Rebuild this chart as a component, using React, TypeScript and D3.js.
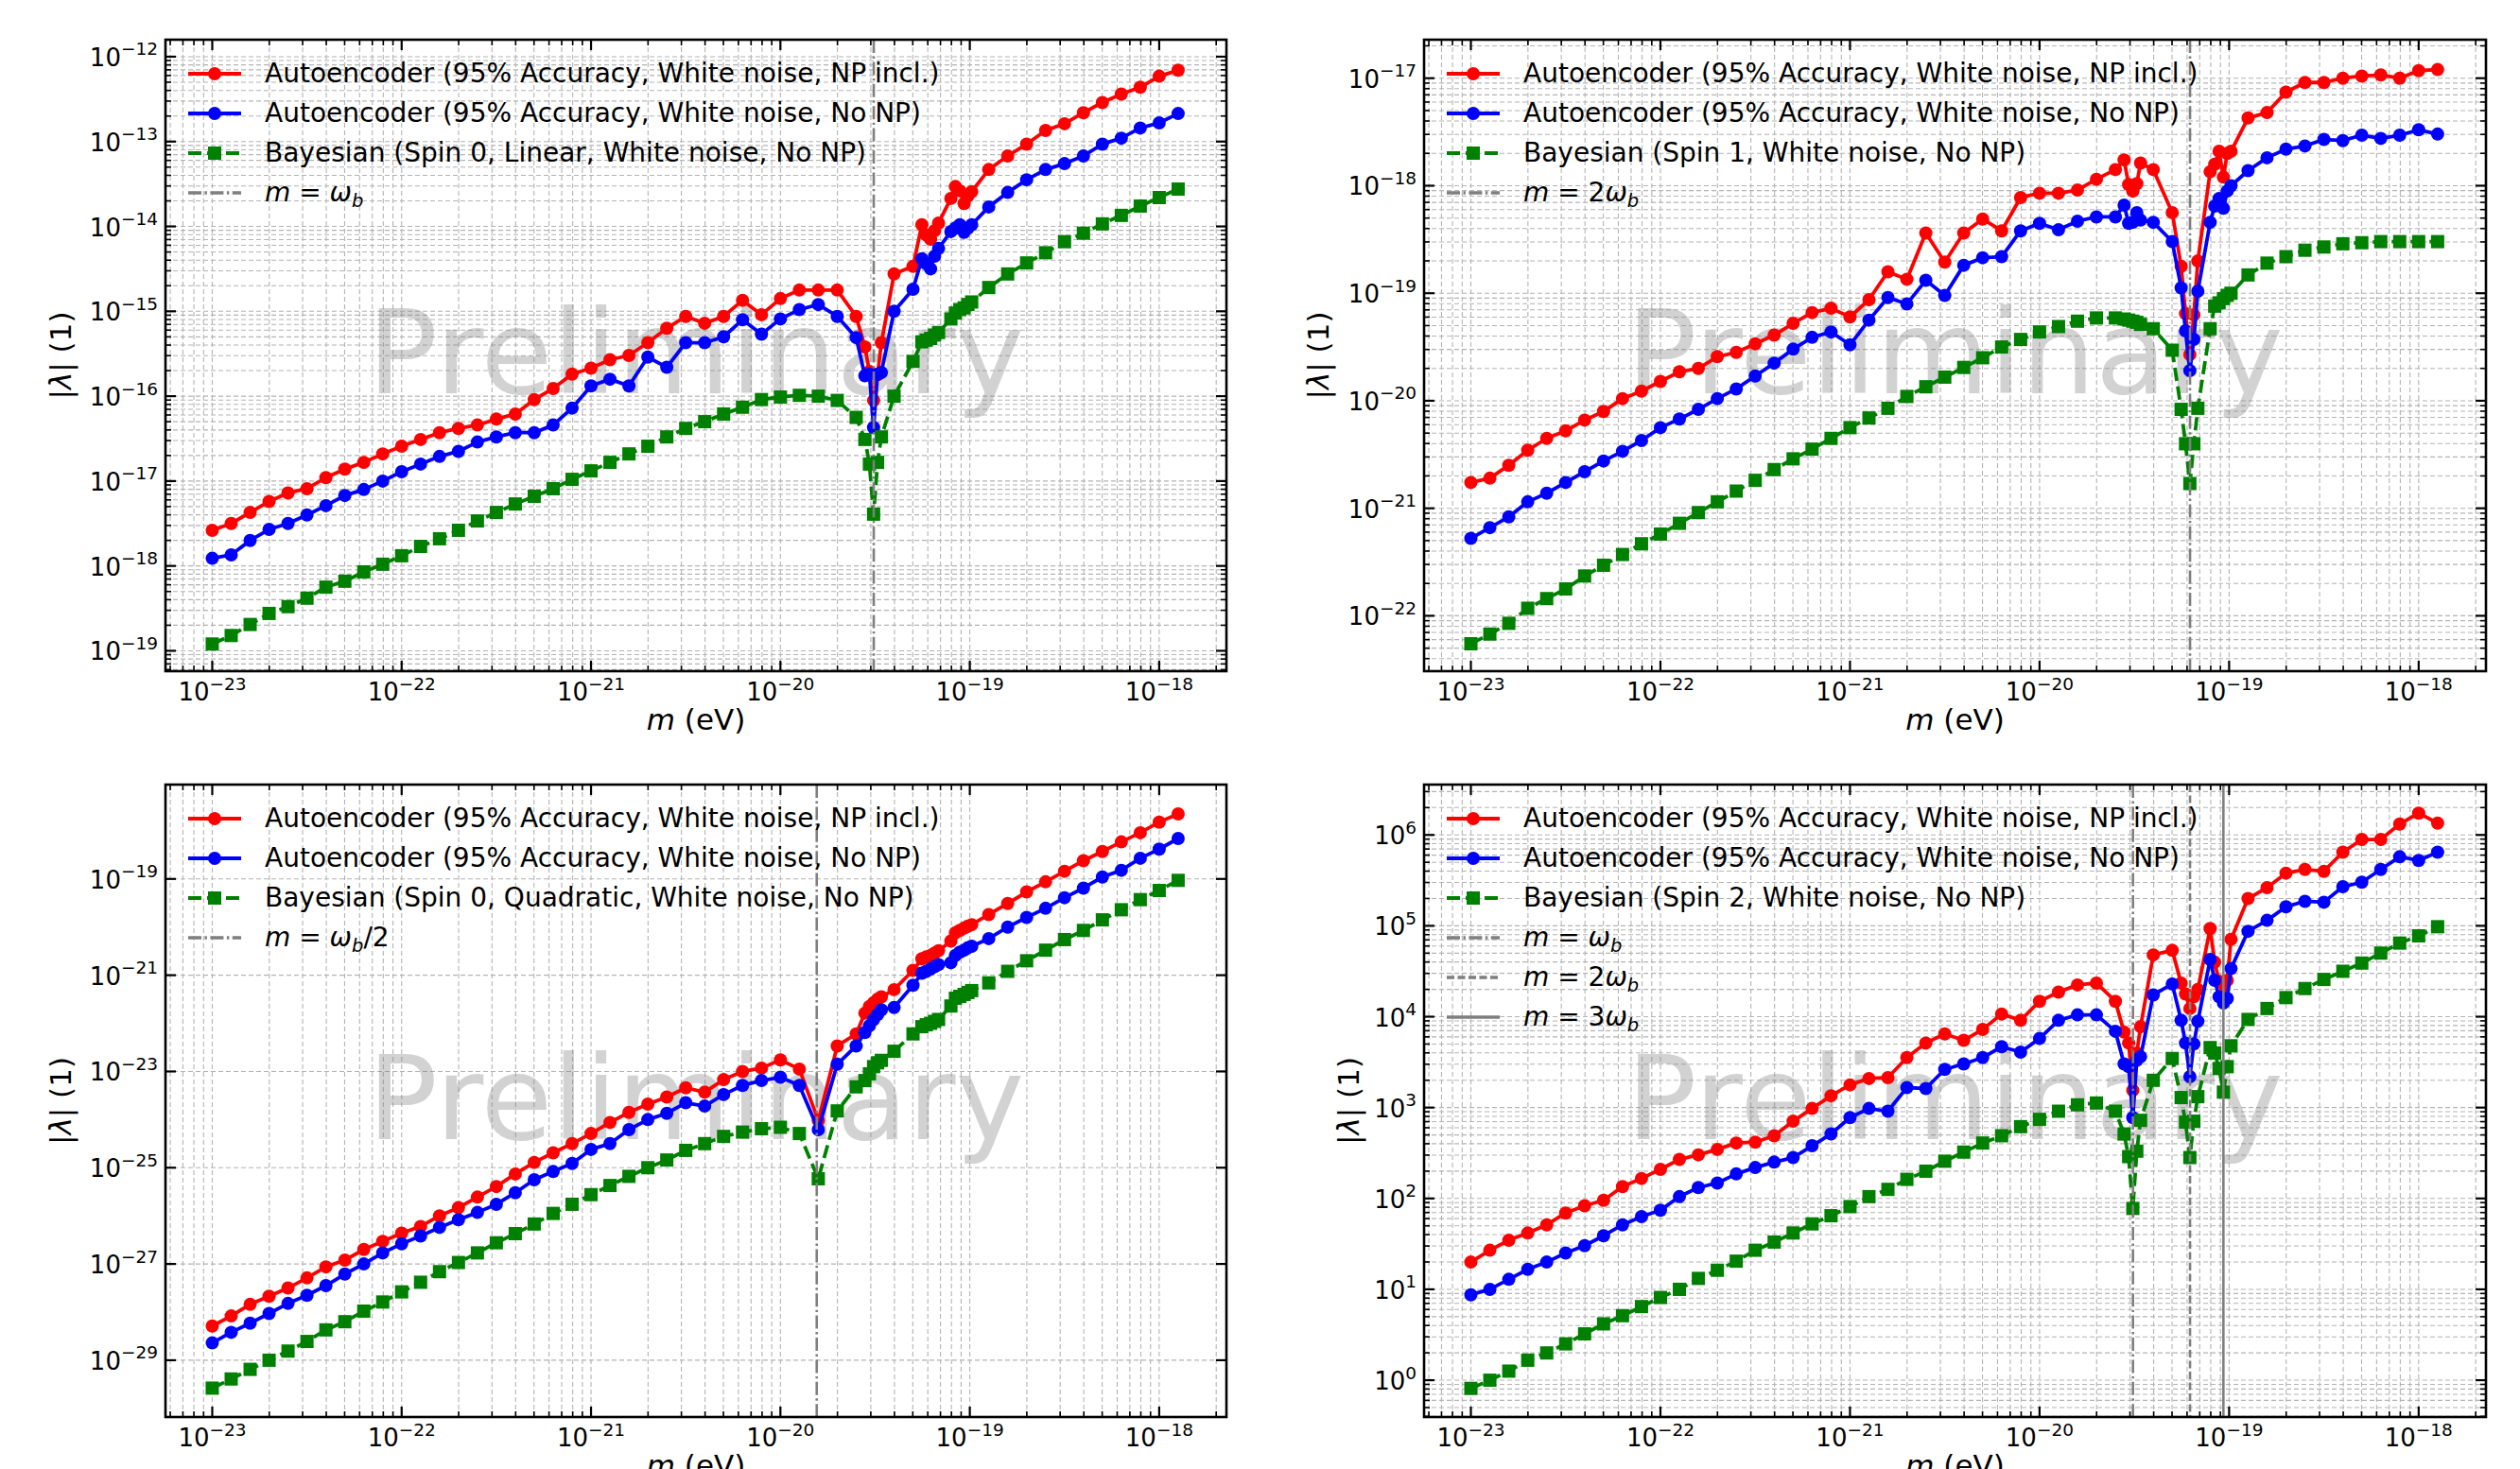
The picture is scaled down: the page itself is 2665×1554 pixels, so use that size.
import React from 'react';
import * as d3 from 'd3';

const FONT = "'DejaVu Sans', 'Liberation Sans', sans-serif";

// log10 of the mass grid m (eV); extra points cluster around the resonances
const massExp = [
  -23.0, -22.9, -22.8, -22.7, -22.6, -22.5, -22.4, -22.3, -22.2, -22.1,
  -22.0, -21.9, -21.8, -21.7, -21.6, -21.5, -21.4, -21.3, -21.2, -21.1,
  -21.0, -20.9, -20.8, -20.7, -20.6, -20.5, -20.4, -20.3, -20.2, -20.1,
  -20.0, -19.9, -19.8, -19.7, -19.6,
  -19.554, -19.53, -19.508, -19.487, -19.467,
  -19.4, -19.3,
  -19.253, -19.23, -19.207, -19.186, -19.165,
  -19.1,
  -19.076, -19.053, -19.03, -19.01, -18.99,
  -18.9, -18.8, -18.7, -18.6, -18.5, -18.4, -18.3, -18.2, -18.1, -18.0, -17.9,
];

// resonance masses (eV)
const mHalf = 1.555e-20;
const mOne = 3.11e-20;
const mTwo = 6.22e-20;
const mThree = 9.33e-20;

// log10 |lambda| per series
const p1Red = [
  -17.58, -17.50, -17.37, -17.24, -17.14, -17.09, -16.96, -16.86, -16.78, -16.68,
  -16.59, -16.51, -16.43, -16.38, -16.34, -16.27, -16.21, -16.04, -15.91, -15.74,
  -15.67, -15.57, -15.52, -15.37, -15.20, -15.06, -15.14, -15.06, -14.87, -15.04,
  -14.85, -14.75, -14.75, -14.75, -15.06,
  -15.42, -15.71, -16.05, -15.75, -15.37,
  -14.56, -14.47,
  -13.98, -14.10, -14.15, -14.05, -13.96,
  -13.67,
  -13.53, -13.58, -13.73, -13.64, -13.59,
  -13.33, -13.17, -13.03, -12.87, -12.79, -12.66, -12.54, -12.44, -12.36, -12.23, -12.16,
];
const p1Blue = [
  -17.91, -17.87, -17.70, -17.57, -17.50, -17.40, -17.29, -17.17, -17.10, -17.00,
  -16.89, -16.80, -16.71, -16.65, -16.54, -16.48, -16.43, -16.43, -16.34, -16.14,
  -15.88, -15.80, -15.88, -15.54, -15.66, -15.37, -15.37, -15.30, -15.10, -15.27,
  -15.09, -14.98, -14.92, -15.06, -15.31,
  -15.76, -15.74, -16.37, -15.74, -15.72,
  -15.00, -14.74,
  -14.38, -14.44, -14.50, -14.35, -14.26,
  -14.06,
  -14.02, -13.98, -14.07, -14.02, -13.98,
  -13.77, -13.60, -13.45, -13.33, -13.26, -13.17, -13.03, -12.96, -12.84, -12.78, -12.67,
];
const p1Green = [
  -18.92, -18.82, -18.69, -18.56, -18.48, -18.38, -18.25, -18.18, -18.07, -17.98,
  -17.88, -17.77, -17.68, -17.58, -17.47, -17.37, -17.27, -17.18, -17.09, -16.98,
  -16.88, -16.78, -16.68, -16.59, -16.48, -16.38, -16.30, -16.21, -16.13, -16.04,
  -16.01, -15.99, -16.00, -16.05, -16.25,
  -16.51, -16.80, -17.39, -16.78, -16.48,
  -16.00, -15.59,
  -15.36, -15.34, -15.32, -15.28, -15.25,
  -15.09,
  -15.02, -14.98, -14.96, -14.92, -14.89,
  -14.72, -14.56, -14.43, -14.31, -14.18, -14.08, -13.97, -13.87, -13.76, -13.66, -13.56,
];

const p2Red = [
  -20.76, -20.72, -20.60, -20.46, -20.35, -20.28, -20.18, -20.10, -19.98, -19.91,
  -19.82, -19.73, -19.70, -19.59, -19.55, -19.47, -19.39, -19.28, -19.18, -19.14,
  -19.22, -19.06, -18.80, -18.87, -18.44, -18.71, -18.44, -18.31, -18.42, -18.11,
  -18.07, -18.07, -18.04, -17.94, -17.85,
  -17.76, -17.99, -18.05, -17.98, -17.79,
  -17.85, -18.25,
  -18.75, -19.19, -19.57, -19.20, -18.70,
  -17.87,
  -17.80, -17.68, -17.92, -17.70, -17.68,
  -17.37, -17.32, -17.13, -17.04, -17.04, -17.00, -16.98, -16.97, -17.00, -16.93, -16.92,
];
const p2Blue = [
  -21.28, -21.18, -21.08, -20.94, -20.86, -20.76, -20.66, -20.56, -20.47, -20.37,
  -20.25, -20.17, -20.08, -19.98, -19.89, -19.77, -19.65, -19.52, -19.41, -19.36,
  -19.48, -19.25, -19.04, -19.10, -18.88, -19.02, -18.74, -18.67, -18.66, -18.42,
  -18.35, -18.41, -18.33, -18.29, -18.29,
  -18.18, -18.35, -18.34, -18.25, -18.32,
  -18.34, -18.52,
  -18.95, -19.35, -19.72, -19.43, -18.98,
  -18.34,
  -18.19, -18.12, -18.21, -18.05, -18.00,
  -17.86, -17.74, -17.66, -17.63, -17.57, -17.58, -17.53, -17.56, -17.53, -17.48, -17.52,
];
const p2Green = [
  -22.26, -22.17, -22.07, -21.93, -21.84, -21.75, -21.63, -21.53, -21.43, -21.33,
  -21.24, -21.14, -21.04, -20.94, -20.84, -20.74, -20.64, -20.54, -20.45, -20.35,
  -20.25, -20.16, -20.07, -19.96, -19.87, -19.78, -19.69, -19.60, -19.50, -19.43,
  -19.36, -19.31, -19.26, -19.23, -19.23,
  -19.24, -19.25, -19.26, -19.27, -19.29,
  -19.33, -19.53,
  -20.08, -20.40, -20.77, -20.40, -20.07,
  -19.33,
  -19.12, -19.09, -19.05, -19.02, -19.00,
  -18.83, -18.72, -18.66, -18.60, -18.57, -18.54, -18.53, -18.52, -18.52, -18.52, -18.52,
];

const p3Red = [
  -28.29, -28.08, -27.84, -27.67, -27.50, -27.29, -27.06, -26.92, -26.70, -26.53,
  -26.36, -26.22, -26.00, -25.83, -25.61, -25.39, -25.13, -24.89, -24.69, -24.50,
  -24.29, -24.06, -23.85, -23.68, -23.53, -23.34, -23.43, -23.17, -23.00, -22.93,
  -22.76, -22.95, -24.02, -22.47, -22.22,
  -21.79, -21.65, -21.57, -21.50, -21.45,
  -21.30, -20.90,
  -20.66, -20.62, -20.59, -20.54, -20.49,
  -20.29,
  -20.12, -20.07, -20.02, -19.98, -19.95,
  -19.74, -19.51, -19.27, -19.06, -18.84, -18.62, -18.43, -18.23, -18.04, -17.82, -17.65,
];
const p3Blue = [
  -28.64, -28.42, -28.23, -28.03, -27.82, -27.65, -27.45, -27.21, -27.00, -26.77,
  -26.58, -26.42, -26.24, -26.08, -25.93, -25.76, -25.52, -25.25, -25.08, -24.91,
  -24.62, -24.50, -24.21, -24.00, -23.87, -23.65, -23.72, -23.48, -23.29, -23.19,
  -23.12, -23.29, -24.21, -22.85, -22.47,
  -22.19, -22.05, -21.92, -21.82, -21.72,
  -21.67, -21.21,
  -20.96, -20.92, -20.87, -20.82, -20.78,
  -20.74,
  -20.59, -20.52, -20.48, -20.43, -20.40,
  -20.24, -20.00, -19.80, -19.61, -19.39, -19.19, -18.96, -18.82, -18.57, -18.38, -18.16,
];
const p3Green = [
  -29.58, -29.39, -29.19, -29.00, -28.81, -28.61, -28.37, -28.20, -27.98, -27.79,
  -27.58, -27.38, -27.16, -26.97, -26.77, -26.56, -26.37, -26.17, -25.95, -25.76,
  -25.56, -25.37, -25.18, -25.00, -24.84, -24.64, -24.50, -24.35, -24.26, -24.19,
  -24.16, -24.29, -25.23, -23.82, -23.32,
  -23.19, -23.05, -22.90, -22.82, -22.77,
  -22.58, -22.22,
  -22.07, -22.03, -22.00, -21.96, -21.92,
  -21.64,
  -21.48, -21.44, -21.40, -21.36, -21.32,
  -21.16, -20.92, -20.70, -20.48, -20.26, -20.07, -19.85, -19.64, -19.43, -19.24, -19.03,
];

const p4Red = [
  1.30, 1.43, 1.54, 1.62, 1.71, 1.84, 1.92, 1.98, 2.13, 2.22,
  2.32, 2.43, 2.48, 2.54, 2.61, 2.62, 2.69, 2.85, 2.99, 3.13,
  3.25, 3.32, 3.33, 3.55, 3.71, 3.81, 3.74, 3.86, 4.03, 3.96,
  4.17, 4.27, 4.35, 4.37, 4.17,
  3.83, 3.71, 3.19, 3.60, 3.89,
  4.68, 4.73,
  4.37, 4.25, 4.09, 4.22, 4.30,
  4.97,
  4.60, 4.39, 4.20, 4.40, 4.85,
  5.30, 5.42, 5.58, 5.62, 5.60, 5.81, 5.95, 5.95, 6.12, 6.24, 6.13,
];
const p4Blue = [
  0.94, 1.00, 1.11, 1.22, 1.30, 1.40, 1.48, 1.59, 1.71, 1.80,
  1.87, 2.02, 2.12, 2.17, 2.27, 2.34, 2.40, 2.45, 2.58, 2.71,
  2.89, 2.99, 2.96, 3.22, 3.21, 3.42, 3.48, 3.55, 3.67, 3.61,
  3.76, 3.96, 4.02, 4.02, 3.84,
  3.48, 3.45, 2.89, 3.52, 3.56,
  4.24, 4.36,
  3.96, 3.71, 3.34, 3.70, 3.95,
  4.63,
  4.40, 4.22, 4.15, 4.20, 4.53,
  4.94, 5.06, 5.21, 5.27, 5.26, 5.43, 5.48, 5.62, 5.76, 5.72, 5.81,
];
const p4Green = [
  -0.09, 0.00, 0.10, 0.22, 0.30, 0.40, 0.51, 0.62, 0.71, 0.81,
  0.91, 1.00, 1.12, 1.21, 1.31, 1.43, 1.52, 1.62, 1.72, 1.81,
  1.91, 2.02, 2.10, 2.21, 2.30, 2.41, 2.51, 2.61, 2.69, 2.79,
  2.87, 2.96, 3.03, 3.05, 2.96,
  2.71, 2.46, 1.89, 2.52, 2.86,
  3.30, 3.54,
  3.11, 2.84, 2.45, 2.85, 3.12,
  3.66,
  3.60, 3.43, 3.17, 3.45, 3.68,
  3.97, 4.09, 4.21, 4.31, 4.41, 4.50, 4.59, 4.70, 4.81, 4.89, 4.99,
];

const xMajorExp = [-23, -22, -21, -20, -19, -18];
const xDomainExp = [-23.247, -17.645];

const redLabel = 'Autoencoder (95% Accuracy, White noise, NP incl.)';
const blueLabel = 'Autoencoder (95% Accuracy, White noise, No NP)';
const greenLabels = [
  'Bayesian (Spin 0, Linear, White noise, No NP)',
  'Bayesian (Spin 1, White noise, No NP)',
  'Bayesian (Spin 0, Quadratic, White noise, No NP)',
  'Bayesian (Spin 2, White noise, No NP)',
];

const DASHDOT = '14,3.5,2.4,3.5';
const DASHED = '8,3.5';
const VCOLOR = '#7f7f7f';

type VLine = { m: number; dash: string | null; coef: string; suffix?: string };
type Cfg = {
  left: number; top: number; width: number; height: number;
  yDomainExp: number[]; yMajorExp: number[]; yMinor: boolean;
  red: number[]; blue: number[]; green: number[]; greenLabel: string;
  vlines: VLine[]; ylabelX: number;
};

const panels: Cfg[] = [
  { left: 175, top: 42, width: 1122, height: 668, yDomainExp: [-19.24, -11.80],
    yMajorExp: [-19, -18, -17, -16, -15, -14, -13, -12], yMinor: true,
    red: p1Red, blue: p1Blue, green: p1Green, greenLabel: greenLabels[0],
    vlines: [{ m: mOne, dash: DASHDOT, coef: '' }], ylabelX: 64 },
  { left: 1506, top: 42, width: 1123, height: 668, yDomainExp: [-22.515, -16.642],
    yMajorExp: [-22, -21, -20, -19, -18, -17], yMinor: true,
    red: p2Red, blue: p2Blue, green: p2Green, greenLabel: greenLabels[1],
    vlines: [{ m: mTwo, dash: DASHDOT, coef: '2' }], ylabelX: 1394 },
  { left: 175, top: 830, width: 1122, height: 669, yDomainExp: [-30.18, -17.04],
    yMajorExp: [-29, -27, -25, -23, -21, -19], yMinor: false,
    red: p3Red, blue: p3Blue, green: p3Green, greenLabel: greenLabels[2],
    vlines: [{ m: mHalf, dash: DASHDOT, coef: '', suffix: '/2' }], ylabelX: 64 },
  { left: 1506, top: 830, width: 1123, height: 669, yDomainExp: [-0.405, 6.554],
    yMajorExp: [0, 1, 2, 3, 4, 5, 6], yMinor: true,
    red: p4Red, blue: p4Blue, green: p4Green, greenLabel: greenLabels[3],
    vlines: [
      { m: mOne, dash: DASHDOT, coef: '' },
      { m: mTwo, dash: DASHED, coef: '2' },
      { m: mThree, dash: null, coef: '3' },
    ], ylabelX: 1426 },
];

const expText = (e: number) => (e < 0 ? '\u2212' + Math.abs(e) : String(e));

function minorTicks(lo: number, hi: number) {
  const out: number[] = [];
  for (let d = Math.floor(lo) - 1; d <= Math.ceil(hi); d++) {
    for (let s = 2; s <= 9; s++) {
      const v = s * Math.pow(10, d);
      const l = Math.log10(v);
      if (l > lo && l < hi) out.push(v);
    }
  }
  return out;
}

function OmegaLabel({ v }: { v: VLine }) {
  return (
    <>
      <tspan fontStyle="italic">m</tspan>
      <tspan> = {v.coef}</tspan>
      <tspan fontStyle="italic">ω</tspan>
      <tspan fontStyle="italic" fontSize={19.5} dy={6}>b</tspan>
      {v.suffix ? <tspan dy={-6}>{v.suffix}</tspan> : null}
    </>
  );
}

function Panel({ cfg, idx }: { cfg: Cfg; idx: number }) {
  const { left, top, width, height } = cfg;
  const right = left + width;
  const bottom = top + height;
  const x = d3.scaleLog().domain([10 ** xDomainExp[0], 10 ** xDomainExp[1]]).range([left, right]);
  const y = d3.scaleLog().domain([10 ** cfg.yDomainExp[0], 10 ** cfg.yDomainExp[1]]).range([bottom, top]);

  const xMajor = xMajorExp.map((e) => 10 ** e);
  const xMinor = minorTicks(xDomainExp[0], xDomainExp[1]);
  const yMajor = cfg.yMajorExp.map((e) => 10 ** e);
  const yMinor = cfg.yMinor ? minorTicks(cfg.yDomainExp[0], cfg.yDomainExp[1]) : [];

  const series = [
    { vals: cfg.red, color: '#ff0000', square: false, dash: null as string | null, label: redLabel },
    { vals: cfg.blue, color: '#0000ff', square: false, dash: null as string | null, label: blueLabel },
    { vals: cfg.green, color: '#008000', square: true, dash: '14,6', label: cfg.greenLabel },
  ];

  const line = d3.line<number[]>().x((d) => x(d[0])).y((d) => y(d[1]));
  const clipId = `clip${idx}`;
  const gridStyle = { stroke: '#b4b4b4', strokeWidth: 1.1, strokeDasharray: '5,3' };
  const legendRow = (i: number) => top + 36 + i * 42;
  const hx0 = left + 24;
  const hx1 = left + 80;
  const tx = left + 105;

  return (
    <g fontFamily={FONT}>
      <defs>
        <clipPath id={clipId}>
          <rect x={left} y={top} width={width} height={height} />
        </clipPath>
      </defs>
      {/* grid */}
      <g>
        {[...xMajor, ...xMinor].map((v, i) => (
          <line key={'gx' + i} x1={x(v)} x2={x(v)} y1={top} y2={bottom} {...gridStyle} />
        ))}
        {[...yMajor, ...yMinor].map((v, i) => (
          <line key={'gy' + i} x1={left} x2={right} y1={y(v)} y2={y(v)} {...gridStyle} />
        ))}
      </g>
      {/* watermark */}
      <text x={left + width / 2} y={top + height * 0.56} textAnchor="middle" fontSize={123}
        fill="#808080" opacity={0.35}>Preliminary</text>
      {/* data */}
      <g clipPath={`url(#${clipId})`}>
        {series.map((s, si) => {
          const pts = massExp.map((e, i) => [10 ** e, 10 ** s.vals[i]]);
          return (
            <g key={'s' + si}>
              <path d={line(pts) || ''} fill="none" stroke={s.color} strokeWidth={3.8}
                strokeDasharray={s.dash || undefined} strokeLinejoin="round" />
              {pts.map((p, i) =>
                s.square ? (
                  <rect key={i} x={x(p[0]) - 7} y={y(p[1]) - 7} width={14} height={14} fill={s.color} />
                ) : (
                  <circle key={i} cx={x(p[0])} cy={y(p[1])} r={7} fill={s.color} />
                )
              )}
            </g>
          );
        })}
        {cfg.vlines.map((v, i) => (
          <line key={'v' + i} x1={x(v.m)} x2={x(v.m)} y1={top} y2={bottom} stroke={VCOLOR}
            strokeWidth={2.6} strokeDasharray={v.dash || undefined} />
        ))}
      </g>
      {/* ticks, all four sides, pointing in */}
      <g stroke="#000">
        {xMajor.map((v, i) => (
          <g key={'tx' + i}>
            <line x1={x(v)} x2={x(v)} y1={bottom} y2={bottom - 11} strokeWidth={2.2} />
            <line x1={x(v)} x2={x(v)} y1={top} y2={top + 11} strokeWidth={2.2} />
          </g>
        ))}
        {xMinor.map((v, i) => (
          <g key={'tmx' + i}>
            <line x1={x(v)} x2={x(v)} y1={bottom} y2={bottom - 6} strokeWidth={1.6} />
            <line x1={x(v)} x2={x(v)} y1={top} y2={top + 6} strokeWidth={1.6} />
          </g>
        ))}
        {yMajor.map((v, i) => (
          <g key={'ty' + i}>
            <line x1={left} x2={left + 11} y1={y(v)} y2={y(v)} strokeWidth={2.2} />
            <line x1={right} x2={right - 11} y1={y(v)} y2={y(v)} strokeWidth={2.2} />
          </g>
        ))}
        {yMinor.map((v, i) => (
          <g key={'tmy' + i}>
            <line x1={left} x2={left + 6} y1={y(v)} y2={y(v)} strokeWidth={1.6} />
            <line x1={right} x2={right - 6} y1={y(v)} y2={y(v)} strokeWidth={1.6} />
          </g>
        ))}
      </g>
      <rect x={left} y={top} width={width} height={height} fill="none" stroke="#000" strokeWidth={2.6} />
      {/* tick labels */}
      {xMajorExp.map((e, i) => (
        <text key={'lx' + i} x={x(10 ** e)} y={bottom + 31} textAnchor="middle" fontSize={26} fill="#000">
          10<tspan dy={-11.5} fontSize={18.5}>{expText(e)}</tspan>
        </text>
      ))}
      {cfg.yMajorExp.map((e, i) => (
        <text key={'ly' + i} x={left - 8} y={y(10 ** e) + 10} textAnchor="end" fontSize={26} fill="#000">
          10<tspan dy={-11.5} fontSize={18.5}>{expText(e)}</tspan>
        </text>
      ))}
      {/* axis labels */}
      <text x={left + width / 2} y={bottom + 62} textAnchor="middle" fontSize={31} fill="#000">
        <tspan fontStyle="italic">m</tspan> (eV)
      </text>
      <text transform={`translate(${cfg.ylabelX},${top + height / 2}) rotate(-90)`} textAnchor="middle"
        dominantBaseline="central" fontSize={31} fill="#000">
        |<tspan fontStyle="italic">λ</tspan>| (1)
      </text>
      {/* legend */}
      <g>
        {series.map((s, i) => {
          const ly = legendRow(i);
          return (
            <g key={'lg' + i}>
              <line x1={hx0} x2={hx1} y1={ly} y2={ly} stroke={s.color} strokeWidth={3.8}
                strokeDasharray={s.dash || undefined} />
              {s.square ? (
                <rect x={(hx0 + hx1) / 2 - 7} y={ly - 7} width={14} height={14} fill={s.color} />
              ) : (
                <circle cx={(hx0 + hx1) / 2} cy={ly} r={7} fill={s.color} />
              )}
              <text x={tx} y={ly + 9} fontSize={28} fill="#000">{s.label}</text>
            </g>
          );
        })}
        {cfg.vlines.map((v, i) => {
          const ly = legendRow(3 + i);
          return (
            <g key={'lv' + i}>
              <line x1={hx0} x2={hx1} y1={ly} y2={ly} stroke={VCOLOR} strokeWidth={3.4}
                strokeDasharray={v.dash || undefined} />
              <text x={tx} y={ly + 9} fontSize={28} fill="#000"><OmegaLabel v={v} /></text>
            </g>
          );
        })}
      </g>
    </g>
  );
}

export default function App() {
  return (
    <div style={{ position: 'absolute', left: 0, top: 0, width: 2665, height: 1554, overflow: 'hidden', background: '#fff' }}>
      <svg width={2665} height={1554} viewBox="0 0 2665 1554" style={{ display: 'block' }}>
        <rect x={0} y={0} width={2665} height={1554} fill="#fff" />
        {panels.map((p, i) => (
          <Panel key={i} cfg={p} idx={i} />
        ))}
      </svg>
    </div>
  );
}
